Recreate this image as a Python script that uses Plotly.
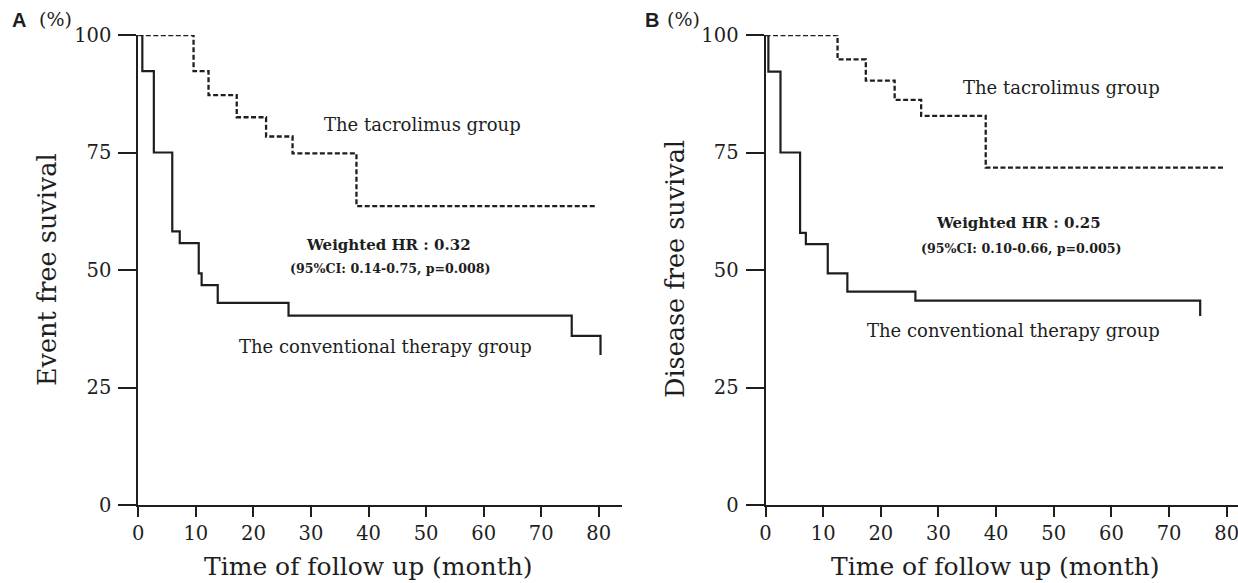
import plotly.graph_objects as go

# Kaplan-Meier step data (time in months, survival in %)
a_conv_t = [0, 0.7, 2.7, 5.9, 7.2, 10.5, 11.0, 13.8, 26.1, 75.3, 80.3]
a_conv_s = [100, 92.3, 75.0, 58.2, 55.7, 49.3, 46.8, 43.0, 40.3, 36.0, 31.9]
a_tac_t = [0, 9.6, 12.2, 17.1, 22.2, 26.8, 37.9]
a_tac_s = [100, 92.3, 87.2, 82.5, 78.4, 74.8, 63.6]
a_tac_end = 79.7

b_conv_t = [0, 0.5, 2.6, 6.0, 7.0, 10.8, 14.2, 26.0, 75.4]
b_conv_s = [100, 92.2, 75.0, 57.9, 55.5, 49.3, 45.4, 43.5, 40.2]
b_tac_t = [0, 12.5, 17.4, 22.4, 27.0, 38.2]
b_tac_s = [100, 94.8, 90.3, 86.2, 82.8, 71.8]
b_tac_end = 79.5

x_ticks = [0, 10, 20, 30, 40, 50, 60, 70, 80]
y_ticks = [0, 25, 50, 75, 100]

INK = "#1e1e1e"
SERIF = "DejaVu Serif"
W, H = 1238, 583


def step(ts, ss, end=None):
    xs, ys = [], []
    for i, (t, s) in enumerate(zip(ts, ss)):
        if i > 0:
            xs.append(t)
            ys.append(ss[i - 1])
        xs.append(t)
        ys.append(s)
    if end is not None:
        xs.append(end)
        ys.append(ss[-1])
    return xs, ys


fig = go.Figure()

panels = [
    ("x", "y", a_conv_t, a_conv_s, a_tac_t, a_tac_s, a_tac_end),
    ("x2", "y2", b_conv_t, b_conv_s, b_tac_t, b_tac_s, b_tac_end),
]
for xa, ya, ct, cs, tt, ts_, tend in panels:
    x, y = step(tt, ts_, tend)
    fig.add_trace(go.Scatter(x=x, y=y, xaxis=xa, yaxis=ya, mode="lines",
                             line=dict(color=INK, width=2.3, dash="5px,2.5px"),
                             cliponaxis=False, hoverinfo="skip"))
    x, y = step(ct, cs)
    fig.add_trace(go.Scatter(x=x, y=y, xaxis=xa, yaxis=ya, mode="lines",
                             line=dict(color=INK, width=2.2),
                             cliponaxis=False, hoverinfo="skip"))

y_dom = [(H - 505) / H, (H - 35) / H]
axis_common = dict(showgrid=False, zeroline=False, showline=True, linecolor=INK,
                   linewidth=2, ticks="outside", tickcolor=INK, tickwidth=2,
                   ticklabeloverflow="allow",
                   tickfont=dict(family=SERIF, size=19.5, color=INK))

fig.update_layout(
    width=W, height=H,
    margin=dict(l=0, r=0, t=0, b=0, pad=0, autoexpand=False),
    paper_bgcolor="white", plot_bgcolor="white", showlegend=False,
    xaxis=dict(domain=[138.3 / W, 621.5 / W], range=[0, (621.5 - 138.3) / 5.756],
               tickvals=x_ticks, ticklen=10, anchor="y", **axis_common),
    yaxis=dict(domain=y_dom, range=[0, 100], tickvals=y_ticks, ticklen=18,
               anchor="x", ticklabelstandoff=3, **axis_common),
    xaxis2=dict(domain=[765.5 / W, 1.0], range=[0, (W - 765.5) / 5.765],
                tickvals=x_ticks, ticklen=10, anchor="y2", **axis_common),
    yaxis2=dict(domain=y_dom, range=[0, 100], tickvals=y_ticks, ticklen=18,
                anchor="x2", ticklabelstandoff=3, **axis_common),
)


def note(text, x, y, xref, yref, size, bold=False, family=SERIF, angle=0):
    fig.add_annotation(text=f"<b>{text}</b>" if bold else text, x=x, y=y,
                       xref=xref, yref=yref, showarrow=False, textangle=angle,
                       xanchor="center", yanchor="middle",
                       font=dict(family=family, size=size, color=INK))


def px(xp, yp):
    return xp / W, 1 - yp / H


# Curve labels and hazard ratios, panel A
note("The tacrolimus group", 49.4, 80.9, "x", "y", 18)
note("Weighted HR : 0.32", 43.4, 55.3, "x", "y", 15, bold=True)
note("(95%CI: 0.14-0.75, p=0.008)", 43.9, 50.4, "x", "y", 12.6, bold=True)
note("The conventional therapy group", 42.9, 33.7, "x", "y", 18)

# Panel B
note("The tacrolimus group", 51.4, 88.9, "x2", "y2", 18)
note("Weighted HR : 0.25", 43.9, 59.9, "x2", "y2", 15, bold=True)
note("(95%CI: 0.10-0.66, p=0.005)", 44.4, 54.6, "x2", "y2", 12.6, bold=True)
note("The conventional therapy group", 43.1, 37.1, "x2", "y2", 18)

# Axis titles
note("Event free suvival", *px(47, 270), "paper", "paper", 25.5, angle=-90)
note("Disease free suvival", *px(675, 269), "paper", "paper", 25.5, angle=-90)
note("Time of follow up (month)", *px(368.6, 566), "paper", "paper", 25)
note("Time of follow up (month)", *px(995.5, 566), "paper", "paper", 25)

# Panel letters and units
note("A", *px(19, 20), "paper", "paper", 20, bold=True, family="Liberation Sans")
note("(%)", *px(55, 19), "paper", "paper", 19)
note("B", *px(652, 20), "paper", "paper", 20, bold=True, family="Liberation Sans")
note("(%)", *px(683, 19), "paper", "paper", 19)

fig.write_html("out.html")
